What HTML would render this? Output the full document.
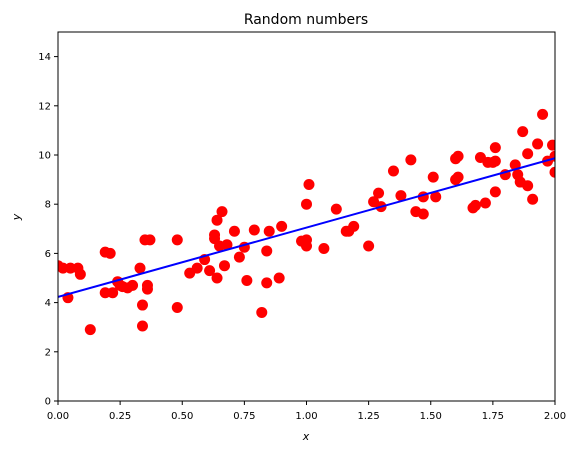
<!DOCTYPE html>
<html><head><meta charset="utf-8"><style>
body{margin:0;background:#fff;}
svg{display:block;font-family:"DejaVu Sans","Liberation Sans",sans-serif;}
</style></head><body>
<svg id="chart" width="579" height="455" viewBox="0 0 579 455">
<defs><clipPath id="clip"><rect x="58" y="32" width="497" height="369"/></clipPath></defs>
</svg>
<script>
const xs=[0.00,0.02,0.04,0.05,0.08,0.09,0.13,0.19,0.19,0.21,0.22,0.24,0.25,0.26,0.28,0.30,0.33,0.34,0.34,0.35,0.36,0.36,0.37,0.48,0.48,0.53,0.56,0.59,0.61,0.63,0.63,0.64,0.64,0.65,0.66,0.67,0.68,0.71,0.73,0.75,0.76,0.79,0.82,0.84,0.84,0.85,0.89,0.90,0.98,1.00,1.00,1.00,1.01,1.07,1.12,1.16,1.17,1.19,1.25,1.27,1.29,1.30,1.35,1.38,1.42,1.44,1.47,1.47,1.51,1.52,1.60,1.60,1.61,1.61,1.67,1.68,1.70,1.72,1.73,1.75,1.76,1.76,1.76,1.80,1.84,1.85,1.86,1.87,1.89,1.89,1.91,1.93,1.95,1.97,1.99,2.00,2.00];
const ys=[5.5,5.4,4.2,5.4,5.4,5.15,2.9,6.05,4.4,6.0,4.4,4.85,4.7,4.65,4.6,4.7,5.4,3.05,3.9,6.55,4.55,4.7,6.55,6.55,3.8,5.2,5.4,5.75,5.3,6.6,6.75,7.35,5.0,6.3,7.7,5.5,6.35,6.9,5.85,6.25,4.9,6.95,3.6,4.8,6.1,6.9,5.0,7.1,6.5,6.3,6.55,8.0,8.8,6.2,7.8,6.9,6.9,7.1,6.3,8.1,8.45,7.9,9.35,8.35,9.8,7.7,8.3,7.6,9.1,8.3,9.0,9.85,9.95,9.1,7.85,7.95,9.9,8.05,9.7,9.7,9.75,10.3,8.5,9.2,9.6,9.2,8.9,10.95,10.05,8.75,8.2,10.45,11.65,9.75,10.4,9.3,9.95];
const lineX=[0,2];
const lineY=[4.23,9.87];
const xTicks=[0,0.25,0.5,0.75,1.0,1.25,1.5,1.75,2.0];
const xTickLabels=["0.00","0.25","0.50","0.75","1.00","1.25","1.50","1.75","2.00"];
const yTicks=[0,2,4,6,8,10,12,14];
const yTickLabels=["0","2","4","6","8","10","12","14"];
const NS="http://www.w3.org/2000/svg";
const svg=document.getElementById('chart');
const L=58,R=555,T=32,B=401;
const sx=v=>L+(v-0)/(2-0)*(R-L);
const sy=v=>B-(v-0)/(15-0)*(B-T);
function mk(tag,attrs,parent){const e=document.createElementNS(NS,tag);for(const k in attrs)e.setAttribute(k,attrs[k]);(parent||svg).appendChild(e);return e;}
const plot=mk('g',{'clip-path':'url(#clip)'});


xs.forEach((x,i)=>{const c=mk('circle',{cx:sx(x),cy:sy(ys[i]),r:5.5,fill:'#ff0000'},plot);

});
const ln=mk('line',{x1:sx(lineX[0]),y1:sy(lineY[0]),x2:sx(lineX[1]),y2:sy(lineY[1]),stroke:'#0000ff','stroke-width':2},plot);


const fr=mk('rect',{x:L,y:T,width:R-L,height:B-T,fill:'none',stroke:'#000','stroke-width':1});


xTicks.forEach((t,i)=>{mk('line',{x1:sx(t),y1:B,x2:sx(t),y2:B+4,stroke:'#000'});
const tx=mk('text',{x:sx(t),y:B+18,'text-anchor':'middle','font-size':10});tx.textContent=xTickLabels[i];

});
yTicks.forEach((t,i)=>{mk('line',{x1:L-4,y1:sy(t),x2:L,y2:sy(t),stroke:'#000'});
const tx=mk('text',{x:L-7,y:sy(t)+3.5,'text-anchor':'end','font-size':10});tx.textContent=yTickLabels[i];

});
</script>
<script>
(function(){const svg=document.getElementById('chart');const NS="http://www.w3.org/2000/svg";
function t(txt,attrs,name){const e=document.createElementNS(NS,'text');for(const k in attrs)e.setAttribute(k,attrs[k]);e.textContent=txt;svg.appendChild(e);

}
t('Random numbers',{x:306,y:24,'text-anchor':'middle','font-size':14},'chart-title');
t('x',{x:306,y:440,'text-anchor':'middle','font-size':11,'font-style':'italic'},'x-axis-title');
t('y',{x:20,y:217,'text-anchor':'middle','font-size':11,'font-style':'italic',transform:'rotate(-90 20 217)'},'y-axis-title');
})();
</script>
</body></html>
